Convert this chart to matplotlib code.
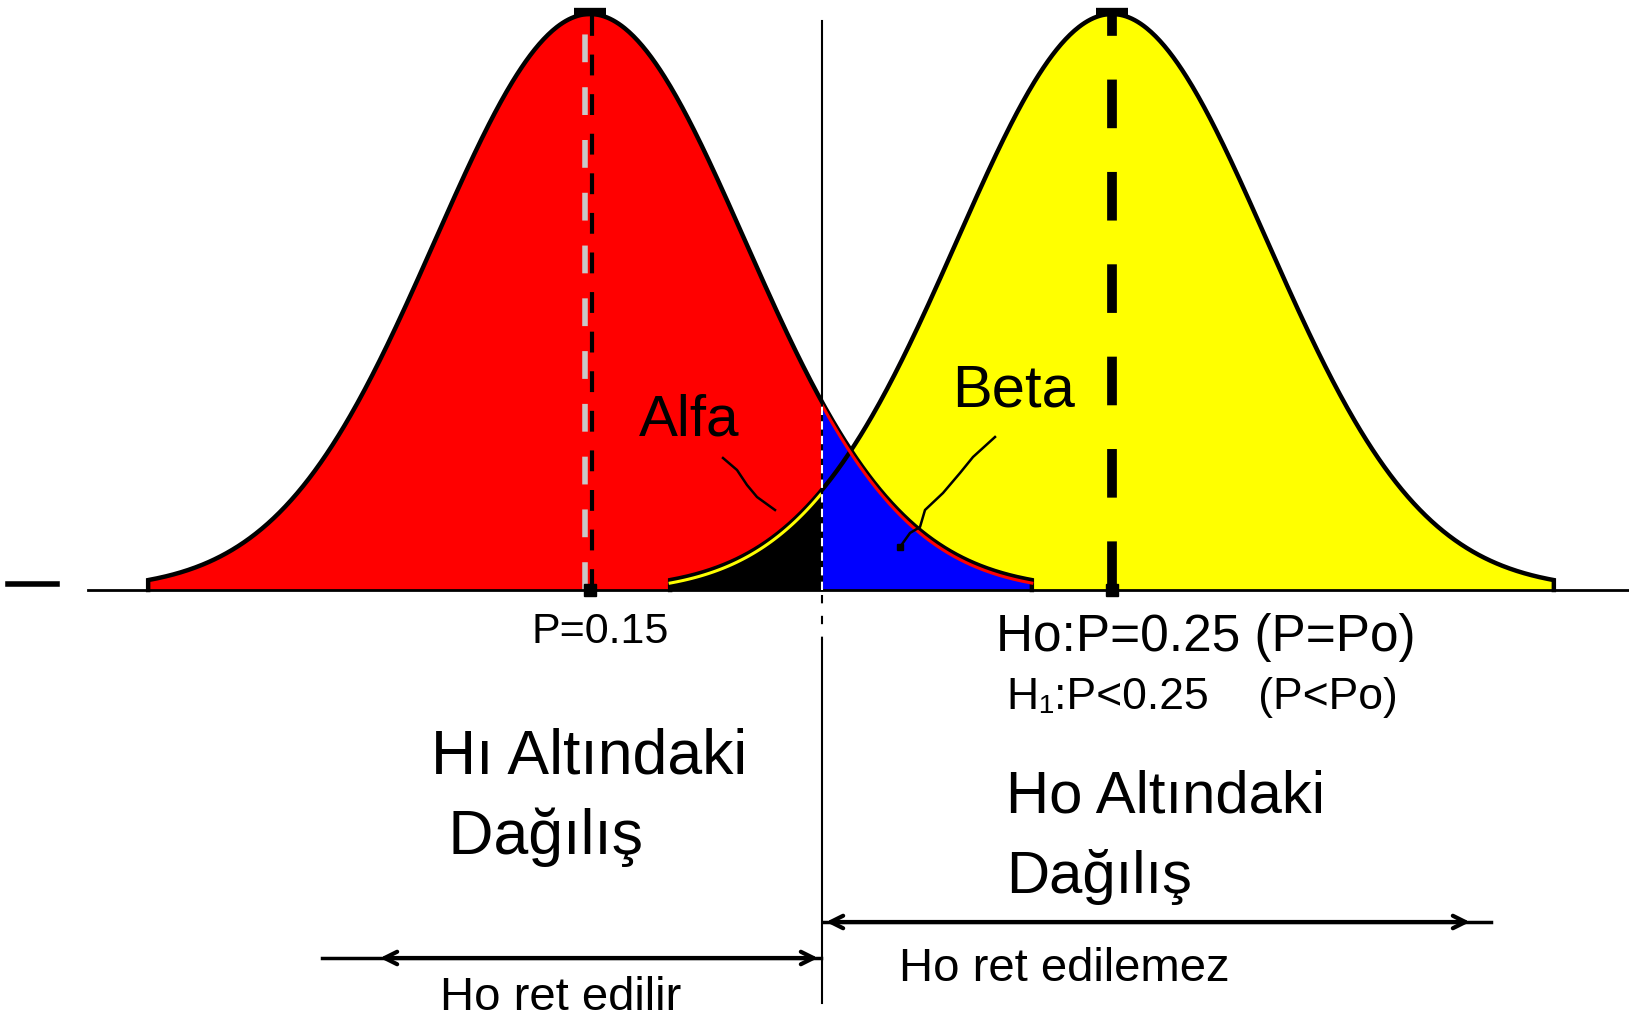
import numpy as np
import matplotlib
matplotlib.use("Agg")
import matplotlib.pyplot as plt
from matplotlib import font_manager

# --- distribution parameters (proportion scale) ---
means = [0.15, 0.25]          # H1 mean, H0 mean
sd = 0.0297
crit = 0.1944                 # rejection boundary
tail = 2.85                   # curves drawn to +/- tail*sd

mean_labels = ["P=0.15", "Ho:P=0.25 (P=Po)", "H\u2081:P<0.25    (P<Po)"]
dist_labels = ["H\u0131 Alt\u0131ndaki\n Da\u011f\u0131l\u0131\u015f", "Ho Alt\u0131ndaki\nDa\u011f\u0131l\u0131\u015f"]
region_labels = ["Ho ret edilir", "Ho ret edilemez"]
area_labels = ["Alfa", "Beta"]

W, H = 1629, 1024
fig = plt.figure(figsize=(W / 100, H / 100), dpi=100)
ax = fig.add_axes([0, 0, 1, 1])

# data <-> canvas scale
xs_per_px = 0.1 / 522.0
ys_per_px = 1.0 / 576.0
x_left = means[0] - 590 * xs_per_px
base_px = 590
ax.set_xlim(x_left, x_left + W * xs_per_px)
ax.set_ylim(-(H - base_px) * ys_per_px, base_px * ys_per_px)
ax.axis("off")


def P(x, y):
    """canvas pixel -> axes fraction"""
    return (x / W, 1 - y / H)


def X(xp):
    return x_left + np.asarray(xp) * xs_per_px


def Y(yp):
    return (base_px - np.asarray(yp)) * ys_per_px


avail = {f.name for f in font_manager.fontManager.ttflist}
fam = [f for f in ["Liberation Sans Narrow", "Liberation Sans", "DejaVu Sans"] if f in avail]


def dens(x, m):
    return np.exp(-0.5 * ((x - m) / sd) ** 2)


curves = []
for m in means:
    x = np.linspace(m - tail * sd, m + tail * sd, 600)
    curves.append((x, dens(x, m)))

(xr, yr), (xy, yy) = curves
RED, YEL, BLUE = "#ff0000", "#ffff00", "#0000ff"

ax.fill_between(xr, 0, yr, color=RED, lw=0, zorder=1)
ax.fill_between(xy, 0, yy, color=YEL, lw=0, zorder=1)
mk = xy <= crit
ax.fill_between(xy[mk], 0, yy[mk], color="black", lw=0, zorder=2)
mb = xr >= crit
ax.fill_between(xr[mb], 0, yr[mb], color=BLUE, lw=0, zorder=2)

# outlines
for x, y in curves:
    xx = np.r_[x[0], x, x[-1]]
    yv = np.r_[0, y, 0]
    ax.plot(xx, yv, color="black", lw=3.2, zorder=4, solid_joinstyle="miter")
off = 3 * ys_per_px
ax.plot(xr[mb], yr[mb] - off, color=RED, lw=2.2, zorder=5)
ax.plot(xy[mk], yy[mk] - off, color=YEL, lw=2.2, zorder=5)

# baseline and small tick at far left
ax.plot([X(88), X(W)], [0, 0], color="black", lw=2, zorder=6)
ax.plot([X(8), X(57)], [Y(584), Y(584)], color="black", lw=4, zorder=6)

# mean lines
dash = (0, (5.0, 4.5))
ax.plot([X(585), X(585)], [0, 1], color="#c8c8c8", lw=4, ls=dash, zorder=3)
ax.plot([X(592), X(592)], [0, 1], color="black", lw=3, ls=dash, zorder=3)
ax.plot([means[1], means[1]], [0, 1], color="black", lw=7, ls=dash, zorder=3)
for m in means:
    ax.plot([m - 16 * xs_per_px, m + 16 * xs_per_px], [1 + 2 * ys_per_px] * 2,
            color="black", lw=6, zorder=6, solid_capstyle="butt")
    ax.plot([m], [0], marker="s", ms=9, color="black", zorder=7)

# rejection boundary
top_at_crit = dens(crit, means[0])
ax.plot([crit, crit], [0, Y(21)], color="black", lw=1.5, zorder=6)
ax.plot([crit, crit], [0, top_at_crit], color="white", lw=1.5, ls=(0, (4, 3)), zorder=6)
ax.plot([crit, crit], [Y(595), Y(640)], color="black", lw=1.5, ls=(0, (4, 6)), zorder=6)
ax.plot([crit, crit], [Y(640), Y(1003)], color="black", lw=1.5, zorder=6)

# leader lines
alfa_leader = np.array([(723, 458), (737, 470), (747, 485), (757, 497), (775, 510)])
beta_leader = np.array([(995, 437), (973, 457), (960, 473), (943, 493), (925, 510),
                        (920, 527), (910, 533), (900, 547)])
for pts in (alfa_leader, beta_leader):
    ax.plot(X(pts[:, 0]), Y(pts[:, 1]), color="black", lw=1.8, zorder=8)
ax.plot(X(900), Y(547), marker="s", ms=4, color="black", zorder=8)

# arrows
arrow_kw = dict(arrowstyle="<->,head_length=0.9,head_width=0.45", lw=3, color="black",
                shrinkA=0, shrinkB=0)
ax.plot([X(322), X(821)], [Y(958)] * 2, color="black", lw=2.5, zorder=6)
ax.annotate("", xy=P(380, 958), xytext=P(818, 958), xycoords="axes fraction",
            textcoords="axes fraction", arrowprops=arrow_kw, zorder=7)
ax.plot([X(824), X(1491)], [Y(922)] * 2, color="black", lw=2.5, zorder=6)
ax.annotate("", xy=P(826, 922), xytext=P(1470, 922), xycoords="axes fraction",
            textcoords="axes fraction", arrowprops=arrow_kw, zorder=7)

tk = dict(transform=ax.transAxes, family=fam, color="black", zorder=9)
ax.text(*P(689, 421), area_labels[0], fontsize=42, ha="center", va="center", **tk)
ax.text(*P(1014, 391), area_labels[1], fontsize=43, ha="center", va="center", **tk)
ax.text(*P(600, 632), mean_labels[0], fontsize=31, ha="center", va="center", **tk)
ax.text(*P(1206, 638), mean_labels[1], fontsize=37, ha="center", va="center", **tk)
ax.text(*P(1202, 698), mean_labels[2], fontsize=32, ha="center", va="center", **tk)
ax.text(*P(431, 797), dist_labels[0], fontsize=45, ha="left", va="center",
        linespacing=1.45, **tk)
ax.text(*P(1006, 837), dist_labels[1], fontsize=43, ha="left", va="center",
        linespacing=1.55, **tk)
ax.text(*P(561, 998), region_labels[0], fontsize=34, ha="center", va="center", **tk)
ax.text(*P(1064, 969), region_labels[1], fontsize=34, ha="center", va="center", **tk)

fig.savefig("out.png", dpi=100, facecolor="white")
